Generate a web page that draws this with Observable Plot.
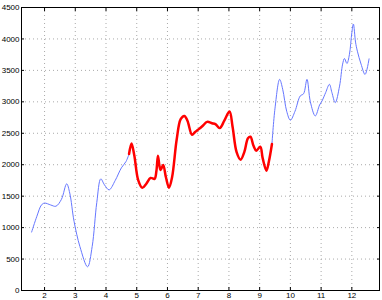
<!DOCTYPE html>
<html><head><meta charset="utf-8">
<script src="https://cdn.jsdelivr.net/npm/d3@7"></script>
<script src="https://cdn.jsdelivr.net/npm/@observablehq/plot@0.6"></script>
<style>body{margin:0;background:#fff}</style>
</head><body><div id="chart"></div>
<script>
const xTicks = [2,3,4,5,6,7,8,9,10,11,12];
const yTicks = [0,500,1000,1500,2000,2500,3000,3500,4000,4500];

const blue1X = [1.58,1.75,1.9,2.0,2.2,2.37,2.55,2.72,2.82,2.96,3.15,3.40,3.55,3.70,3.83,3.95,4.10,4.3,4.5,4.65,4.75];
const blue1Y = [930,1180,1360,1390,1360,1340,1450,1696,1550,1100,700,377,700,1400,1775,1680,1600,1750,1950,2050,2170];

const redX = [4.75,4.83,4.92,5.05,5.18,5.3,5.45,5.58,5.64,5.69,5.74,5.78,5.86,5.95,6.05,6.15,6.3,6.43,6.55,6.65,6.80,6.9,7.02,7.15,7.29,7.45,7.56,7.70,7.85,8.02,8.12,8.25,8.38,8.5,8.62,8.70,8.8,8.89,9.02,9.1,9.22,9.30,9.40];
const redY = [2170,2338,2150,1750,1633,1690,1790,1775,1900,2144,1980,1917,1996,1800,1633,1800,2400,2724,2776,2700,2476,2520,2566,2620,2681,2660,2645,2582,2700,2845,2600,2200,2080,2200,2420,2444,2300,2223,2286,2100,1906,2050,2329];

const blue2X = [9.40,9.5,9.65,9.75,9.88,10.0,10.15,10.32,10.43,10.54,10.65,10.81,10.95,11.03,11.15,11.27,11.35,11.46,11.6,11.7,11.76,11.84,11.92,12.0,12.05,12.12,12.18,12.3,12.43,12.56];
const blue2Y = [2329,2900,3357,3200,2850,2708,2850,3093,3129,3357,3000,2776,2950,3014,3150,3278,3150,2987,3250,3600,3689,3610,3750,4100,4237,3950,3805,3600,3436,3683];

const toRows = (xs, ys) => xs.map((x, i) => ({x, y: ys[i]}));
const blue1 = toRows(blue1X, blue1Y);
const red = toRows(redX, redY);
const blue2 = toRows(blue2X, blue2Y);

const chart = Plot.plot({
  width: 382, height: 300,
  marginLeft: 21, marginRight: 3, marginTop: 7, marginBottom: 10,
  style: {fontFamily: "Liberation Sans, Arial, sans-serif", fontSize: "8px", background: "#fff", color: "#000"},
  x: {domain: [1.25, 12.9]},
  y: {domain: [0, 4500]},
  marks: [
    Plot.gridX(xTicks, {stroke: "#aaa", strokeOpacity: 1, strokeDasharray: "1,3"}),
    Plot.gridY(yTicks, {stroke: "#aaa", strokeOpacity: 1, strokeDasharray: "1,3"}),
    Plot.axisX(xTicks, {anchor: "bottom", tickSize: -3, tickFormat: () => "", label: null, stroke: "#000"}),
    Plot.axisX(xTicks, {anchor: "top", tickSize: -3, tickFormat: () => "", label: null, stroke: "#000"}),
    Plot.axisY(yTicks, {anchor: "left", tickSize: -3, tickFormat: () => "", label: null, stroke: "#000"}),
    Plot.axisY(yTicks, {anchor: "right", tickSize: -3, tickFormat: () => "", label: null, stroke: "#000"}),
    Plot.axisX(xTicks, {anchor: "bottom", tickSize: 0, tickPadding: 2, label: null, tickFormat: d => String(d), fontSize: 8}),
    Plot.axisY(yTicks, {anchor: "left", tickSize: 0, tickPadding: 2, label: null, tickFormat: d => String(d), fontSize: 8}),
    Plot.frame({stroke: "#000", strokeWidth: 1}),
    Plot.line(blue1, {x: "x", y: "y", stroke: "#6677ff", strokeWidth: 1, curve: "catmull-rom"}),
    Plot.line(blue2, {x: "x", y: "y", stroke: "#6677ff", strokeWidth: 1, curve: "catmull-rom"}),
    Plot.line(red, {x: "x", y: "y", stroke: "#ff0000", strokeWidth: 2.5, curve: "catmull-rom"})
  ]
});
document.getElementById("chart").appendChild(chart);
</script>
</body></html>
